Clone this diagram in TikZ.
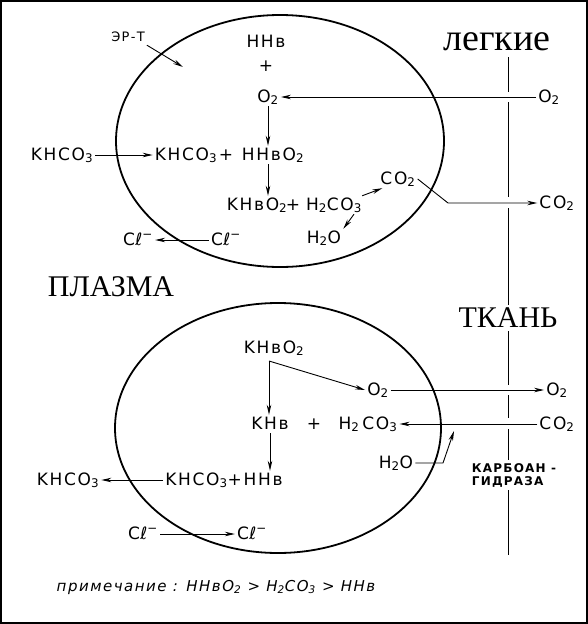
\documentclass[tikz,border=0pt]{standalone}
\usepackage{fontspec}
\setmainfont{DejaVu Sans}[LetterSpace=10]
\newfontfamily\regionfont{Liberation Serif}
\usetikzlibrary{arrows.meta,positioning,calc}

\newcommand{\lo}[1]{\textsubscript{#1}}
\newcommand{\chl}{C\kern0.5ptℓ\textsuperscript{−}}

\begin{document}
\begin{tikzpicture}[
  x=1pt, y=-1pt,
  font=\fontsize{17}{19}\selectfont,
  chem/.style={inner sep=2pt, text height=12pt, text depth=2pt},
  region/.style={inner sep=3pt, font=\regionfont\fontsize{30}{32}\selectfont},
  cell/.style={line width=1.8pt},
  wall/.style={line width=1pt},
  flow/.style={-{Stealth[length=10pt,width=4.5pt]}, line width=0.9pt}
]
\useasboundingbox (0,0) rectangle (588,624);
\draw[line width=2pt] (1,1) rectangle (587,623);

\draw[cell] (280,141) ellipse [x radius=164, y radius=126];
\draw[cell] (278,428) ellipse [x radius=163, y radius=125];

\node[region, font=\regionfont\fontsize{38}{40}\selectfont] (lungs) at (497,42) {легкие};
\node[region] (plasma) at (111,287) {ПЛАЗМА};
\node[region] (tissue) at (508,318) {ТКАНЬ};
\node[font=\bfseries\fontsize{12}{13}\selectfont, align=left, inner sep=3pt] (enzyme) at (514,475) {КАРБОАН -\\ГИДРАЗА};

\draw[wall] (508,57) -- (508,92);
\draw[wall] (508,102) -- (508,197);
\draw[wall] (508,208) -- (tissue.north);
\draw[wall] (tissue.south) -- (508,385);
\draw[wall] (508,395) -- (508,418);
\draw[wall] (508,429) -- (enzyme.north -| tissue.south);
\draw[wall] (enzyme.south -| tissue.south) -- (508,555);

\node[chem, font=\fontsize{13}{14}\selectfont] (ert) at (128,36) {ЭР-Т};
\coordinate (ertTip) at (183,67);
\draw[flow] (ert.south east) -- (ertTip);

\node[chem] (hhb) at (266,42) {HHв};
\node[chem] (plusA) at (266,66) {+};
\node[chem] (o2in) at (268,97) {O\lo2};
\node[chem] (o2lung) at (549,97) {O\lo2};
\draw[flow] (o2lung.west) -- (o2in.east);

\node[chem] (khco3pl) at (62,155) {KHCO\lo3};
\node[chem] (khco3) at (186,155) {KHCO\lo3};
\node[chem] (plusB) at (226,155) {+};
\node[chem] (hhbo2) at (273,155) {HHвO\lo2};
\draw[flow] (khco3pl.east) -- (khco3.west);
\draw[flow] (o2in.south) -- (o2in.south |- hhbo2.north);

\node[chem] (khbo2) at (257,205) {KHвO\lo2};
\node[chem] (plusC) at (293,205) {+};
\node[chem] (h2co3) at (334,205) {H\lo2CO\lo3};
\draw[flow] (hhbo2.south -| o2in) -- (o2in |- khbo2.north);

\node[chem] (co2in) at (398,179) {CO\lo2};
\node[chem] (h2o) at (324,238) {H\lo2O};
\draw[flow] ([xshift=-2pt]h2co3.north east) -- ([xshift=4pt]co2in.south west);
\draw[flow] ([xshift=20pt]h2co3.south) -- (h2o.north east);

\coordinate (co2bend) at (448,203);
\node[chem] (co2lung) at (557,203) {CO\lo2};
\draw[flow] (co2in.east) -- (co2bend) -- (co2bend -| co2lung.west);

\node[chem] (clpl) at (138,240) {\chl};
\node[chem] (clin) at (226,240) {\chl};
\draw[flow] (clin.west) -- (clpl.east);

\node[chem] (khbo2b) at (274,348) {KHвO\lo2};
\coordinate (fork) at (269,361);
\node[chem] (o2b) at (378,390) {O\lo2};
\node[chem] (o2tis) at (557,390) {O\lo2};
\draw[flow] (fork) -- (o2b.west);
\draw[flow] (o2b.east) -- (o2tis.west);

\node[chem] (khb) at (270,424) {KHв};
\node[chem] (plusD) at (314,424) {+};
\node[chem] (h2co3b) at (368,424) {H\lo2\,CO\lo3};
\node[chem] (co2tis) at (557,424) {CO\lo2};
\draw[flow] (fork) -- (fork |- khb.north);
\draw[flow] (co2tis.west) -- (h2co3b.east);

\node[chem] (khco3hhb) at (224,480) {KHCO\lo3+HHв};
\node[chem] (khco3out) at (68,480) {KHCO\lo3};
\draw[flow] (khb.south) -- (khb.south |- khco3hhb.north);
\draw[flow] (khco3hhb.west) -- (khco3out.east);

\node[chem] (h2ob) at (396,463) {H\lo2O};
\coordinate (h2oturn) at (443,463);
\coordinate (h2otip) at (454,431);
\draw[flow] (h2ob.east) -- (h2oturn) -- (h2otip);

\node[chem] (clpl2) at (143,534) {\chl};
\node[chem] (clin2) at (252,534) {\chl};
\draw[flow] (clpl2.east) -- (clin2.west);

\node[font=\itshape\fontsize{15}{17}\selectfont] (note) at (216,587) {примечание : HHвO\lo2 > H\lo2CO\lo3 > HHв};
\end{tikzpicture}
\end{document}
